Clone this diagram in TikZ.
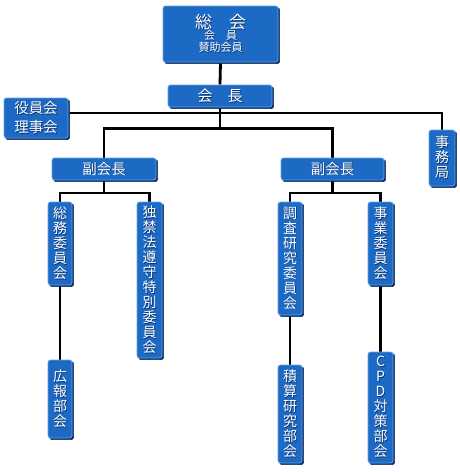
\documentclass[tikz,border=0pt]{standalone}
\usepackage{fontspec}
\newfontfamily\jp{Noto Sans CJK JP}
\usetikzlibrary{backgrounds}
\definecolor{boxblue}{RGB}{28,106,196}
\definecolor{boxlight}{RGB}{105,165,232}
\definecolor{boxdark}{RGB}{12,48,105}
\newcommand\tsh[1]{\leavevmode\rlap{\kern0.8pt\raisebox{-0.8pt}{\textcolor{boxdark}{#1}}}#1}
\tikzset{
  orgbox/.style={fill=boxblue, draw=boxlight, line width=0.7pt, rounded corners=2.5pt,
    text=white, inner sep=0pt, align=center,
    preaction={fill=boxdark, draw=boxdark, line width=0.7pt, transform canvas={shift={(1.6pt,-1.6pt)}}}},
  vbox/.style={orgbox, minimum width=24pt, font=\jp\fontsize{14}{15}\selectfont},
  hbox/.style={orgbox, font=\jp\fontsize{14.5}{19}\selectfont},
  conn/.style={draw=black, line width=2.8pt},
}
\begin{document}
\begin{tikzpicture}[x=1pt, y=-1pt]
\useasboundingbox (0,0) rectangle (459,472);
% top
\node[orgbox, minimum width=115pt, minimum height=56pt] (soukai) at (220.5,34)
  {{\jp\fontsize{17}{19}\selectfont\tsh{総　会}}\\[-1pt]{\jp\fontsize{11}{13}\selectfont\tsh{会　員}}\\{\jp\fontsize{11}{13}\selectfont\tsh{賛助会員}}};
\node[hbox, minimum width=104pt, minimum height=22pt, font=\jp\fontsize{15}{19}\selectfont] (kaicho) at (220,96) {\tsh{会　長}};
\node[hbox, minimum width=64pt, minimum height=40pt] (yakuin) at (36,118) {\tsh{役員会}\\\tsh{理事会}};
\node[vbox, minimum width=26pt, minimum height=56pt] (jimu) at (442,158) {\tsh{事}\\\tsh{務}\\\tsh{局}};
\node[hbox, minimum width=104pt, minimum height=22pt] (fuku1) at (104,169) {\tsh{副会長}};
\node[hbox, minimum width=103pt, minimum height=22pt] (fuku2) at (332.5,169) {\tsh{副会長}};
% committees
\node[vbox, minimum height=83pt] (soumu) at (60,243.5) {\tsh{総}\\\tsh{務}\\\tsh{委}\\\tsh{員}\\\tsh{会}};
\node[vbox, minimum width=25pt, minimum height=156pt] (dokkin) at (149.5,280) {\tsh{独}\\\tsh{禁}\\\tsh{法}\\\tsh{遵}\\\tsh{守}\\\tsh{特}\\\tsh{別}\\\tsh{委}\\\tsh{員}\\\tsh{会}};
\node[vbox, minimum height=113pt] (chousa) at (290,258.5) {\tsh{調}\\\tsh{査}\\\tsh{研}\\\tsh{究}\\\tsh{委}\\\tsh{員}\\\tsh{会}};
\node[vbox, minimum width=25pt, minimum height=83pt] (jigyo) at (380.5,243.5) {\tsh{事}\\\tsh{業}\\\tsh{委}\\\tsh{員}\\\tsh{会}};
\node[vbox, minimum height=78pt] (kouhou) at (60,399) {\tsh{広}\\\tsh{報}\\\tsh{部}\\\tsh{会}};
\node[vbox, minimum height=98pt] (sekisan) at (290,414) {\tsh{積}\\\tsh{算}\\\tsh{研}\\\tsh{究}\\\tsh{部}\\\tsh{会}};
\node[vbox, minimum width=25pt, minimum height=111pt] (cpd) at (380.5,407.5) {\tsh{C}\\\tsh{P}\\\tsh{D}\\\tsh{対}\\\tsh{策}\\\tsh{部}\\\tsh{会}};
% bus coordinates
\coordinate (bus) at (220,113);
\coordinate (bus2) at (220,128.5);
\coordinate (busL) at (104,193);
\coordinate (busR) at (332.5,193);
\begin{pgfonlayer}{background}
\draw[conn] (soukai.south) -- (kaicho.north);
\draw[conn] (kaicho.south) -- (bus2);
\draw[conn] (yakuin.east |- bus) -- (jimu.north |- bus) -- (jimu.north);
\draw[conn] (fuku1.north) |- (fuku2.north |- bus2) -- (fuku2.north);
\draw[conn] (fuku1.south) -- (busL);
\draw[conn] (soumu.north) |- (dokkin.north |- busL) -- (dokkin.north);
\draw[conn] (fuku2.south) -- (busR);
\draw[conn] (chousa.north) |- (jigyo.north |- busR) -- (jigyo.north);
\draw[conn] (soumu.south) -- (kouhou.north);
\draw[conn] (chousa.south) -- (sekisan.north);
\draw[conn] (jigyo.south) -- (cpd.north);
\end{pgfonlayer}
\end{tikzpicture}
\end{document}
